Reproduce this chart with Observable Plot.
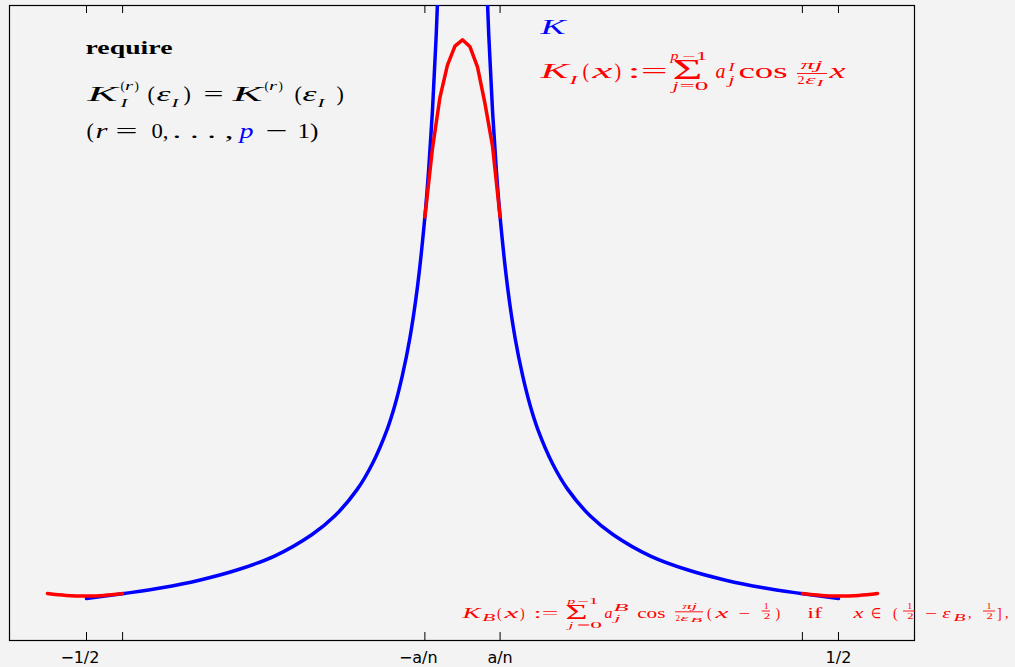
<!DOCTYPE html>
<html>
<head>
<meta charset="utf-8">
<script src="https://cdn.jsdelivr.net/npm/d3@7"></script>
<script src="https://cdn.jsdelivr.net/npm/@observablehq/plot@0.6"></script>
<style>
  html, body { margin: 0; padding: 0; background: #f3f3f3; }
  #chart svg { display: block; }
</style>
</head>
<body>
<div id="chart"></div>
<script>
// Kernel K (blue), two branches around the singularity at x = 0
const kX = [-0.5, -0.45, -0.4, -0.35, -0.3, -0.25, -0.2, -0.17, -0.14, -0.12, -0.1, -0.09, -0.08, -0.07, -0.06, -0.05, -0.045, -0.04, -0.035, -0.03,
            0.03, 0.035, 0.04, 0.045, 0.05, 0.06, 0.07, 0.08, 0.09, 0.1, 0.12, 0.14, 0.17, 0.2, 0.25, 0.3, 0.35, 0.4, 0.45, 0.5];
const kY = [0.66, 0.74, 0.83, 0.95, 1.11, 1.33, 1.67, 1.96, 2.38, 2.78, 3.33, 3.70, 4.17, 4.76, 5.56, 6.67, 7.41, 8.33, 9.52, 11.1,
            11.1, 9.52, 8.33, 7.41, 6.67, 5.56, 4.76, 4.17, 3.70, 3.33, 2.78, 2.38, 1.96, 1.67, 1.33, 1.11, 0.95, 0.83, 0.74, 0.66];
const kBranch = [...Array(20).fill("left"), ...Array(20).fill("right")];

// Interior cosine approximation K_I on [-a/n, a/n] (red)
const iX = [-0.05, -0.04, -0.03, -0.02, -0.01, 0, 0.01, 0.02, 0.03, 0.04, 0.05];
const iY = [6.67, 7.74, 8.55, 9.06, 9.36, 9.46, 9.35, 9.03, 8.45, 7.78, 6.67];

// Boundary cosine approximation K_B around ±1/2 (red)
const bX = [-0.552, -0.527, -0.5, -0.477, -0.452, 0.452, 0.477, 0.5, 0.527, 0.552];
const bY = [0.74, 0.71, 0.70, 0.71, 0.74, 0.74, 0.71, 0.70, 0.71, 0.74];
const bSide = ["left", "left", "left", "left", "left", "right", "right", "right", "right", "right"];

// Axis ticks (labels split into sign and body so the body sits centred on its tick)
const tickValues = [-0.5, -0.452, -0.05, 0.05, 0.452, 0.5];
const labeledTicks = [-0.5, -0.05, 0.05, 0.5];
const tickSigns = ["\u2212", "\u2212", "", ""];
const tickBodies = ["1/2", "a/n", "a/n", "1/2"];

// Layout
const W = 1015, H = 667;
const mL = 9, mR = 101, mT = 5, mB = 27;
const X0 = -0.6024, X1 = 0.6011, Y0 = 0, Y1 = 10;
const tickLen = 8 * (Y1 - Y0) / (H - mT - mB);
const xAt = px => X0 + (px - mL) / (W - mL - mR) * (X1 - X0);
const yAt = py => Y1 - (py - mT) / (H - mT - mB) * (Y1 - Y0);

const BLUE = "#0000ff", RED = "#ff0000", BLACK = "#000000";
const colors = {k: BLACK, r: RED, b: BLUE};
const MATH_FONT = "Liberation Serif";

// Formula pieces: [text, left, baseline, size, width, style, colour]
const notes = [
  ["require", 85, 53, 18, 87, "b", "k"],

  ["K", 87, 100, 22, 30, "i", "k"],
  ["(", 120, 89, 13, null, "n", "k"], ["r", 124.5, 89, 13, 8, "i", "k"], [")", 134, 89, 13, null, "n", "k"],
  ["I", 120, 106, 13, 7, "i", "k"],
  ["(", 147, 100, 22, null, "n", "k"],
  ["\u03b5", 156, 100, 22, 14, "i", "k"],
  ["I", 171, 106, 13, 7, "i", "k"],
  [")", 183, 100, 22, null, "n", "k"],
  ["=", 203, 100, 22, 20, "n", "k"],
  ["K", 232, 100, 22, 30, "i", "k"],
  ["(", 264, 89, 13, null, "n", "k"], ["r", 268.5, 89, 13, 8, "i", "k"], [")", 278, 89, 13, null, "n", "k"],
  ["(", 294, 100, 22, null, "n", "k"],
  ["\u03b5", 302, 100, 22, 14, "i", "k"],
  ["I", 317, 106, 13, 7, "i", "k"],
  [")", 336, 100, 22, null, "n", "k"],

  ["(", 86, 137, 22, null, "n", "k"],
  ["r", 95, 137, 22, 12, "i", "k"],
  ["=", 115, 137, 22, 22, "n", "k"],
  ["0,", 151, 137, 22, 17, "n", "k"],
  [". . . ,", 172, 137, 22, 61, "n", "k"],
  ["p", 239, 137, 22, 14, "i", "b"],
  ["\u2212", 265, 137, 22, 22, "n", "k"],
  ["1)", 297, 137, 22, 21, "n", "k"],

  ["K", 540, 33, 20, 25, "i", "b"],

  ["K", 540, 77, 20, 28, "i", "r"],
  ["I", 569, 83, 12, 8, "i", "r"],
  ["(", 582, 77, 20, null, "n", "r"],
  ["x", 592, 77, 20, 20, "i", "r"],
  [")", 614, 77, 20, null, "n", "r"],
  [":=", 627, 77, 20, 40, "n", "r"],
  ["\u03a3", 672, 78, 30, 30, "n", "r"],
  ["p", 670, 59, 12, 8, "i", "r"], ["\u22121", 682, 59, 12, 25, "n", "r"],
  ["j", 672, 89, 12, 6, "i", "r"], ["=0", 679, 89, 12, 29, "n", "r"],
  ["a", 715, 77, 20, 10, "i", "r"],
  ["I", 728, 70, 12, 6, "i", "r"],
  ["j", 728, 83, 12, 6, "i", "r"],
  ["cos", 738, 77, 20, 49, "n", "r"],
  ["\u03c0j", 800, 68, 12, 22, "i", "r"],
  ["2", 797, 83, 12, 7, "n", "r"], ["\u03b5", 805, 83, 12, 10, "i", "r"], ["I", 816, 85, 9, 7, "i", "r"],
  ["x", 829, 77, 20, 16, "i", "r"],

  ["K", 462, 617, 14, 18, "i", "r"],
  ["B", 481.7, 620, 10, 13, "i", "r"],
  ["(", 496.5, 617, 14, null, "n", "r"],
  ["x", 504, 617, 14, 14, "i", "r"],
  [")", 519.5, 617, 14, null, "n", "r"],
  [":=", 533, 617, 14, 25, "n", "r"],
  ["\u03a3", 565, 618.5, 20, 22, "n", "r"],
  ["p", 566.7, 603, 9, 8, "i", "r"], ["\u22121", 576.5, 603, 9, 21.5, "n", "r"],
  ["j", 568, 627.5, 9, 5, "i", "r"], ["=0", 576.5, 627.5, 9, 25, "n", "r"],
  ["a", 604, 617, 14, 8, "i", "r"],
  ["B", 613, 610, 10, 15, "i", "r"],
  ["j", 614, 620, 9, 6, "i", "r"],
  ["cos", 636.7, 617, 14, 28.3, "n", "r"],
  ["\u03c0j", 681.7, 608.5, 9, 15, "i", "r"],
  ["2", 675, 620, 9, 4.5, "n", "r"], ["\u03b5", 680, 620, 9, 8, "i", "r"], ["B", 690, 621, 7, 11.7, "i", "r"],
  ["(", 706.5, 617, 14, null, "n", "r"],
  ["x", 715, 617, 14, 13, "i", "r"],
  ["\u2212", 738.3, 617, 14, 11.7, "n", "r"],
  ["1", 763.3, 608.5, 9, 5, "n", "r"], ["2", 763.3, 618.7, 9, 6.5, "n", "r"],
  [")", 775, 617, 14, null, "n", "r"],
  ["if", 806.7, 617, 14, 15, "n", "r"],
  ["x", 853, 617, 14, 10, "i", "r"],
  ["\u2208", 870, 617, 14, 10, "n", "r"],
  ["(", 892.5, 617, 14, null, "n", "r"],
  ["1", 906.7, 608.5, 9, 5, "n", "r"], ["2", 906.7, 618.7, 9, 6.3, "n", "r"],
  ["\u2212", 925, 617, 14, 11.7, "n", "r"],
  ["\u03b5", 941.7, 617, 14, 8.3, "i", "r"],
  ["B", 953, 620, 10, 12, "i", "r"],
  [",", 967.5, 617, 14, null, "n", "r"],
  ["1", 986, 608.5, 9, 5, "n", "r"], ["2", 986, 618.7, 9, 6.3, "n", "r"],
  ["]", 996.5, 617, 14, null, "n", "r"],
  [",", 1004.5, 617, 14, null, "n", "r"]
];

// Fraction bars: [y, left, right]
const bars = [
  [73, 797, 827],
  [611.3, 675, 703],
  [610.5, 761.7, 770],
  [610.5, 903, 915],
  [610.5, 983, 995]
];

const kData = kX.map((x, i) => ({x, y: kY[i], branch: kBranch[i]}));
const iData = iX.map((x, i) => ({x, y: iY[i]}));
const bData = bX.map((x, i) => ({x, y: bY[i], side: bSide[i]}));
const tickData = labeledTicks.map((x, i) => ({x, sign: tickSigns[i], body: tickBodies[i]}));

const noteMarks = notes.map(([t, px, py, size, w, st, c]) =>
  Plot.text([t], {
    frameAnchor: "top-left",
    dx: px - mL,
    dy: py - mT,
    text: d => d,
    textAnchor: "start",
    lineAnchor: "bottom",
    fontSize: size,
    fontFamily: MATH_FONT,
    fontStyle: st === "i" ? "italic" : "normal",
    fontWeight: st === "b" ? "bold" : "normal",
    fill: colors[c]
  })
);

const chart = Plot.plot({
  width: W,
  height: H,
  marginLeft: mL,
  marginRight: mR,
  marginTop: mT,
  marginBottom: mB,
  style: {background: "#f3f3f3", fontFamily: "DejaVu Sans", overflow: "visible"},
  x: {domain: [X0, X1], axis: null},
  y: {domain: [Y0, Y1], axis: null},
  marks: [
    Plot.frame({stroke: BLACK, strokeWidth: 1.2}),
    Plot.ruleX(tickValues, {y1: Y0, y2: Y0 + tickLen, stroke: BLACK, strokeWidth: 1}),
    Plot.ruleX(tickValues, {y1: Y1 - tickLen, y2: Y1, stroke: BLACK, strokeWidth: 1}),
    // tick labels below the frame
    Plot.text(tickData, {x: "x", text: "body", frameAnchor: "bottom", dy: 22, lineAnchor: "bottom",
                         textAnchor: "middle", fontSize: 16, fontFamily: "DejaVu Sans", fill: BLACK}),
    Plot.text(tickData, {x: "x", text: "sign", frameAnchor: "bottom", dy: 22, dx: -12.5, lineAnchor: "bottom",
                         textAnchor: "end", fontSize: 16, fontFamily: "DejaVu Sans", fill: BLACK}),
    Plot.line(kData, {x: "x", y: "y", z: "branch", stroke: BLUE, strokeWidth: 3.5, curve: "catmull-rom", clip: true}),
    Plot.line(iData, {x: "x", y: "y", stroke: RED, strokeWidth: 3.5, curve: "linear"}),
    Plot.line(bData, {x: "x", y: "y", z: "side", stroke: RED, strokeWidth: 3.5, curve: "natural"}),
    Plot.ruleY(bars, {y: d => yAt(d[0]), x1: d => xAt(d[1]), x2: d => xAt(d[2]), stroke: RED, strokeWidth: 0.9}),
    ...noteMarks
  ]
});

// Fit each formula piece to its typeset width
const noteNodes = Array.from(chart.querySelectorAll('g[aria-label="text"] text'))
  .slice(-notes.length);
noteNodes.forEach((el, i) => {
  const w = notes[i][4];
  if (w) {
    el.setAttribute("textLength", w);
    el.setAttribute("lengthAdjust", "spacingAndGlyphs");
  }
});

document.getElementById("chart").appendChild(chart);
</script>
</body>
</html>
